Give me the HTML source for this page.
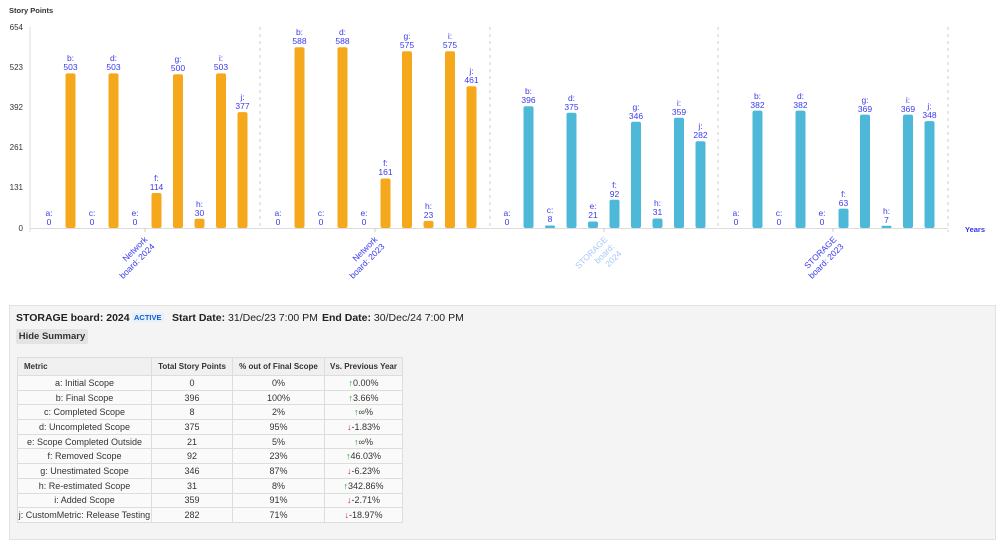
<!DOCTYPE html>
<html><head><meta charset="utf-8"><style>
body{margin:0;width:998px;height:544px;background:#fff;font-family:"Liberation Sans",sans-serif;position:relative;overflow:hidden}
svg text{font-family:"Liberation Sans",sans-serif}
.panel{position:absolute;left:9px;top:305px;width:985px;height:233px;background:#f4f4f4;border:1px solid #e2e2e2}
.hdr{position:absolute;top:312px;font-size:10.5px;color:#222;white-space:nowrap}
.btn{position:absolute;left:16px;top:329px;width:72px;height:15px;background:#e4e4e4;border-radius:2px;font-size:9.5px;font-weight:bold;color:#333;text-align:center;line-height:15px}
table{position:absolute;left:17px;top:357px;border-collapse:collapse;font-size:9px;color:#333;background:#fafafa}
td,th{border:1px solid #ddd;height:13.7px;padding:0;text-align:center}
th{height:17px;font-size:8px;background:#f0f0f0}
.u{color:#1a9a1a}.d{color:#e02020}
</style></head><body>
<svg width="998" height="300" style="position:absolute;left:0;top:0" font-size="8.5">
<text x="9" y="13" font-size="7.5" font-weight="bold" fill="#333">Story Points</text>
<g font-size="8" fill="#333" text-anchor="end">
<text x="23" y="30">654</text><text x="23" y="70">523</text><text x="23" y="110">392</text><text x="23" y="150">261</text><text x="23" y="190">131</text><text x="23" y="231">0</text></g>
<line x1="30" y1="27" x2="30" y2="232" stroke="#ddd"/>
<line x1="30" y1="228.5" x2="948" y2="228.5" stroke="#ddd"/>
<g stroke="#ccc" stroke-dasharray="3,4"><line x1="260" y1="27" x2="260" y2="228"/><line x1="490" y1="27" x2="490" y2="228"/><line x1="718" y1="27" x2="718" y2="228"/><line x1="948" y1="27" x2="948" y2="232"/></g>
<g stroke="#ccc"><line x1="145" y1="228" x2="145" y2="232"/><line x1="375" y1="228" x2="375" y2="232"/><line x1="604" y1="228" x2="604" y2="232"/><line x1="833" y1="228" x2="833" y2="232"/></g>
<text x="965" y="232" font-size="7.5" font-weight="bold" fill="#3333ee">Years</text>
<g fill="#f5a81c">
<rect x="65.5" y="73.4" width="10" height="154.6" rx="2"/><rect x="108.5" y="73.4" width="10" height="154.6" rx="2"/><rect x="151.5" y="193" width="10" height="35" rx="2"/><rect x="173" y="74.3" width="10" height="153.7" rx="2"/><rect x="194.5" y="218.8" width="10" height="9.2" rx="2"/><rect x="216" y="73.4" width="10" height="154.6" rx="2"/><rect x="237.5" y="112.1" width="10" height="115.9" rx="2"/>
<rect x="294.5" y="47.3" width="10" height="180.7" rx="2"/><rect x="337.5" y="47.3" width="10" height="180.7" rx="2"/><rect x="380.5" y="178.5" width="10" height="49.5" rx="2"/><rect x="402" y="51.3" width="10" height="176.7" rx="2"/><rect x="423.5" y="220.9" width="10" height="7.1" rx="2"/><rect x="445" y="51.3" width="10" height="176.7" rx="2"/><rect x="466.5" y="86.3" width="10" height="141.7" rx="2"/>
</g>
<g fill="#4db8d8">
<rect x="523.5" y="106.3" width="10" height="121.7" rx="2"/><rect x="545" y="225.5" width="10" height="2.5" rx="1"/><rect x="566.5" y="112.8" width="10" height="115.2" rx="2"/><rect x="588" y="221.5" width="10" height="6.5" rx="2"/><rect x="609.5" y="199.7" width="10" height="28.3" rx="2"/><rect x="631" y="121.7" width="10" height="106.3" rx="2"/><rect x="652.5" y="218.5" width="10" height="9.5" rx="2"/><rect x="674" y="117.7" width="10" height="110.3" rx="2"/><rect x="695.5" y="141.3" width="10" height="86.7" rx="2"/>
<rect x="752.5" y="110.6" width="10" height="117.4" rx="2"/><rect x="795.5" y="110.6" width="10" height="117.4" rx="2"/><rect x="838.5" y="208.6" width="10" height="19.4" rx="2"/><rect x="860" y="114.6" width="10" height="113.4" rx="2"/><rect x="881.5" y="225.8" width="10" height="2.2" rx="1"/><rect x="903" y="114.6" width="10" height="113.4" rx="2"/><rect x="924.5" y="121.1" width="10" height="106.9" rx="2"/>
</g>
<g fill="#3a3aee" text-anchor="middle">
<text x="49" y="216">a:</text><text x="49" y="225">0</text>
<text x="70.5" y="61">b:</text><text x="70.5" y="70">503</text>
<text x="92" y="216">c:</text><text x="92" y="225">0</text>
<text x="113.5" y="61">d:</text><text x="113.5" y="70">503</text>
<text x="135" y="216">e:</text><text x="135" y="225">0</text>
<text x="156.5" y="181">f:</text><text x="156.5" y="190">114</text>
<text x="178" y="62">g:</text><text x="178" y="71">500</text>
<text x="199.5" y="207">h:</text><text x="199.5" y="216">30</text>
<text x="221" y="61">i:</text><text x="221" y="70">503</text>
<text x="242.5" y="100">j:</text><text x="242.5" y="109">377</text>
<text x="278" y="216">a:</text><text x="278" y="225">0</text>
<text x="299.5" y="35">b:</text><text x="299.5" y="44">588</text>
<text x="321" y="216">c:</text><text x="321" y="225">0</text>
<text x="342.5" y="35">d:</text><text x="342.5" y="44">588</text>
<text x="364" y="216">e:</text><text x="364" y="225">0</text>
<text x="385.5" y="166">f:</text><text x="385.5" y="175">161</text>
<text x="407" y="39">g:</text><text x="407" y="48">575</text>
<text x="428.5" y="209">h:</text><text x="428.5" y="218">23</text>
<text x="450" y="39">i:</text><text x="450" y="48">575</text>
<text x="471.5" y="74">j:</text><text x="471.5" y="83">461</text>
<text x="507" y="216">a:</text><text x="507" y="225">0</text>
<text x="528.5" y="94">b:</text><text x="528.5" y="103">396</text>
<text x="550" y="213">c:</text><text x="550" y="222">8</text>
<text x="571.5" y="101">d:</text><text x="571.5" y="110">375</text>
<text x="593" y="209">e:</text><text x="593" y="218">21</text>
<text x="614.5" y="188">f:</text><text x="614.5" y="197">92</text>
<text x="636" y="110">g:</text><text x="636" y="119">346</text>
<text x="657.5" y="206">h:</text><text x="657.5" y="215">31</text>
<text x="679" y="106">i:</text><text x="679" y="115">359</text>
<text x="700.5" y="129">j:</text><text x="700.5" y="138">282</text>
<text x="736" y="216">a:</text><text x="736" y="225">0</text>
<text x="757.5" y="99">b:</text><text x="757.5" y="108">382</text>
<text x="779" y="216">c:</text><text x="779" y="225">0</text>
<text x="800.5" y="99">d:</text><text x="800.5" y="108">382</text>
<text x="822" y="216">e:</text><text x="822" y="225">0</text>
<text x="843.5" y="197">f:</text><text x="843.5" y="206">63</text>
<text x="865" y="103">g:</text><text x="865" y="112">369</text>
<text x="886.5" y="214">h:</text><text x="886.5" y="223">7</text>
<text x="908" y="103">i:</text><text x="908" y="112">369</text>
<text x="929.5" y="109">j:</text><text x="929.5" y="118">348</text>
</g>
<g font-size="8.5" text-anchor="end">
<text transform="translate(148,240) rotate(-45)" fill="#3a3aee"><tspan x="0" y="0">Network</tspan><tspan x="0" dy="10">board: 2024</tspan></text>
<text transform="translate(378,240) rotate(-45)" fill="#3a3aee"><tspan x="0" y="0">Network</tspan><tspan x="0" dy="10">board: 2023</tspan></text>
<text transform="translate(608,240) rotate(-45)" fill="#a8c8f8"><tspan x="0" y="0">STORAGE</tspan><tspan x="0" dy="10">board:</tspan><tspan x="0" dy="10">2024</tspan></text>
<text transform="translate(837,240) rotate(-45)" fill="#3a3aee"><tspan x="0" y="0">STORAGE</tspan><tspan x="0" dy="10">board: 2023</tspan></text>
</g>
</svg>
<div class="panel"></div>
<div class="hdr" style="left:16px"><b>STORAGE board: 2024</b></div>
<div class="hdr" style="left:132px;top:313px;font-size:7.5px;font-weight:bold;color:#1060d0;background:#e6f0fb;padding:0 2px">ACTIVE</div>
<div class="hdr" style="left:172px"><b>Start Date:</b> 31/Dec/23 7:00 PM</div>
<div class="hdr" style="left:322px"><b>End Date:</b> 30/Dec/24 7:00 PM</div>
<div class="btn">Hide Summary</div>
<table>
<tr><th style="width:134px;text-align:left;padding-left:6px;box-sizing:border-box">Metric</th><th style="width:80px">Total Story Points</th><th style="width:91px">% out of Final Scope</th><th style="width:77px">Vs. Previous Year</th></tr>
<tr><td>a: Initial Scope</td><td>0</td><td>0%</td><td><span class="u">↑</span>0.00%</td></tr>
<tr><td>b: Final Scope</td><td>396</td><td>100%</td><td><span class="u">↑</span>3.66%</td></tr>
<tr><td>c: Completed Scope</td><td>8</td><td>2%</td><td><span class="u">↑</span>∞%</td></tr>
<tr><td>d: Uncompleted Scope</td><td>375</td><td>95%</td><td><span class="d">↓</span>-1.83%</td></tr>
<tr><td>e: Scope Completed Outside</td><td>21</td><td>5%</td><td><span class="u">↑</span>∞%</td></tr>
<tr><td>f: Removed Scope</td><td>92</td><td>23%</td><td><span class="u">↑</span>46.03%</td></tr>
<tr><td>g: Unestimated Scope</td><td>346</td><td>87%</td><td><span class="d">↓</span>-6.23%</td></tr>
<tr><td>h: Re-estimated Scope</td><td>31</td><td>8%</td><td><span class="u">↑</span>342.86%</td></tr>
<tr><td>i: Added Scope</td><td>359</td><td>91%</td><td><span class="d">↓</span>-2.71%</td></tr>
<tr><td>j: CustomMetric: Release Testing</td><td>282</td><td>71%</td><td><span class="d">↓</span>-18.97%</td></tr>
</table>
</body></html>
